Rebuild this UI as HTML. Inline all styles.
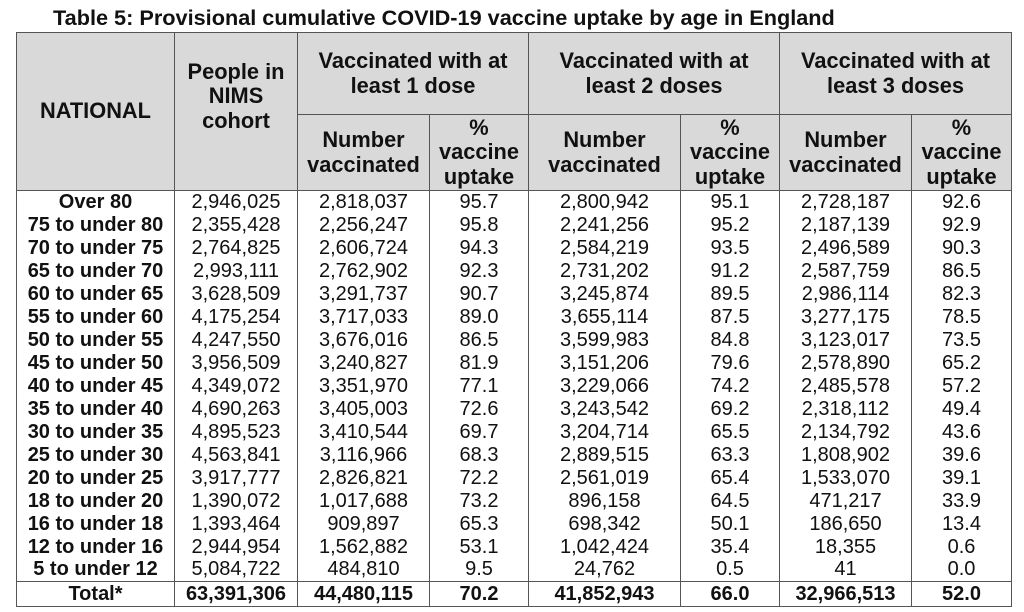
<!DOCTYPE html>
<html><head><meta charset="utf-8"><style>
body{margin:0;width:1024px;height:612px;background:#fff;font-family:"Liberation Sans",Arial,sans-serif;color:#111;position:relative;overflow:hidden}
.t{position:absolute;left:53px;top:5px;font-weight:bold;font-size:21.7px;white-space:nowrap}
table{position:absolute;left:16px;top:32px;border-collapse:collapse;table-layout:fixed}
td,th{border:1px solid #555;padding:0;text-align:center;font-size:20px;line-height:20px;white-space:nowrap}
th{background:#d9d9d9;font-size:21.8px;line-height:24.5px;font-weight:bold}
tbody td{border-top:none;border-bottom:none;height:22.94px;line-height:22px}
tbody td:first-child{font-weight:bold;font-size:20px}
tr.tot td{border-top:1px solid #555;border-bottom:1px solid #555;height:24px;font-weight:bold;font-size:20px}
</style></head><body>
<div class="t">Table 5: Provisional cumulative COVID-19 vaccine uptake by age in England</div>
<table>
<colgroup><col style="width:158px"><col style="width:123px"><col style="width:132px"><col style="width:99px"><col style="width:152px"><col style="width:99px"><col style="width:132px"><col style="width:100px"></colgroup>
<thead>
<tr style="height:82px"><th rowspan="2">NATIONAL</th><th rowspan="2" style="padding-bottom:30px">People in<br>NIMS<br>cohort</th><th colspan="2">Vaccinated with at<br>least 1 dose</th><th colspan="2">Vaccinated with at<br>least 2 doses</th><th colspan="2">Vaccinated with at<br>least 3 doses</th></tr>
<tr style="height:76px"><th>Number<br>vaccinated</th><th>%<br>vaccine<br>uptake</th><th>Number<br>vaccinated</th><th>%<br>vaccine<br>uptake</th><th>Number<br>vaccinated</th><th>%<br>vaccine<br>uptake</th></tr>
</thead>
<tbody>
<tr><td>Over 80</td><td>2,946,025</td><td>2,818,037</td><td>95.7</td><td>2,800,942</td><td>95.1</td><td>2,728,187</td><td>92.6</td></tr>
<tr><td>75 to under 80</td><td>2,355,428</td><td>2,256,247</td><td>95.8</td><td>2,241,256</td><td>95.2</td><td>2,187,139</td><td>92.9</td></tr>
<tr><td>70 to under 75</td><td>2,764,825</td><td>2,606,724</td><td>94.3</td><td>2,584,219</td><td>93.5</td><td>2,496,589</td><td>90.3</td></tr>
<tr><td>65 to under 70</td><td>2,993,111</td><td>2,762,902</td><td>92.3</td><td>2,731,202</td><td>91.2</td><td>2,587,759</td><td>86.5</td></tr>
<tr><td>60 to under 65</td><td>3,628,509</td><td>3,291,737</td><td>90.7</td><td>3,245,874</td><td>89.5</td><td>2,986,114</td><td>82.3</td></tr>
<tr><td>55 to under 60</td><td>4,175,254</td><td>3,717,033</td><td>89.0</td><td>3,655,114</td><td>87.5</td><td>3,277,175</td><td>78.5</td></tr>
<tr><td>50 to under 55</td><td>4,247,550</td><td>3,676,016</td><td>86.5</td><td>3,599,983</td><td>84.8</td><td>3,123,017</td><td>73.5</td></tr>
<tr><td>45 to under 50</td><td>3,956,509</td><td>3,240,827</td><td>81.9</td><td>3,151,206</td><td>79.6</td><td>2,578,890</td><td>65.2</td></tr>
<tr><td>40 to under 45</td><td>4,349,072</td><td>3,351,970</td><td>77.1</td><td>3,229,066</td><td>74.2</td><td>2,485,578</td><td>57.2</td></tr>
<tr><td>35 to under 40</td><td>4,690,263</td><td>3,405,003</td><td>72.6</td><td>3,243,542</td><td>69.2</td><td>2,318,112</td><td>49.4</td></tr>
<tr><td>30 to under 35</td><td>4,895,523</td><td>3,410,544</td><td>69.7</td><td>3,204,714</td><td>65.5</td><td>2,134,792</td><td>43.6</td></tr>
<tr><td>25 to under 30</td><td>4,563,841</td><td>3,116,966</td><td>68.3</td><td>2,889,515</td><td>63.3</td><td>1,808,902</td><td>39.6</td></tr>
<tr><td>20 to under 25</td><td>3,917,777</td><td>2,826,821</td><td>72.2</td><td>2,561,019</td><td>65.4</td><td>1,533,070</td><td>39.1</td></tr>
<tr><td>18 to under 20</td><td>1,390,072</td><td>1,017,688</td><td>73.2</td><td>896,158</td><td>64.5</td><td>471,217</td><td>33.9</td></tr>
<tr><td>16 to under 18</td><td>1,393,464</td><td>909,897</td><td>65.3</td><td>698,342</td><td>50.1</td><td>186,650</td><td>13.4</td></tr>
<tr><td>12 to under 16</td><td>2,944,954</td><td>1,562,882</td><td>53.1</td><td>1,042,424</td><td>35.4</td><td>18,355</td><td>0.6</td></tr>
<tr><td>5 to under 12</td><td>5,084,722</td><td>484,810</td><td>9.5</td><td>24,762</td><td>0.5</td><td>41</td><td>0.0</td></tr>
<tr class="tot"><td>Total*</td><td>63,391,306</td><td>44,480,115</td><td>70.2</td><td>41,852,943</td><td>66.0</td><td>32,966,513</td><td>52.0</td></tr>
</tbody>
</table>
</body></html>
